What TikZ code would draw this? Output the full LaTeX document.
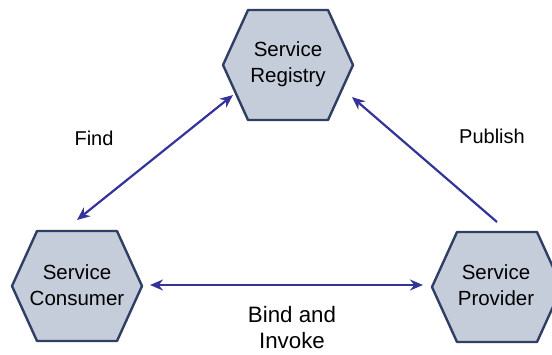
\documentclass[tikz,border=0pt]{standalone}
\usepackage{fontspec}
\setmainfont{Liberation Sans}
\usetikzlibrary{calc,arrows.meta}
\definecolor{hexfill}{HTML}{C5CDDB}
\definecolor{hexline}{HTML}{2F3E63}
\definecolor{arrowc}{HTML}{33339A}
\tikzset{
  hexbox/.style={draw=hexline,fill=hexfill,line width=2.4pt,line join=round},
  hextext/.style={align=center,font=\fontsize{20.5}{25.5}\selectfont,text=black,inner sep=0pt},
  lbl/.style={align=center,font=\fontsize{20}{25}\selectfont,text=black,inner sep=0pt},
  biglbl/.style={align=center,font=\fontsize{22.3}{26}\selectfont,text=black,inner sep=0pt},
  conn/.style={draw=arrowc,line width=2.2pt,-{Stealth[length=13pt,width=11pt]}},
  conn2/.style={draw=arrowc,line width=2.2pt,{Stealth[length=13pt,width=11pt]}-{Stealth[length=13pt,width=11pt]}}
}
\newcommand{\hexat}[1]{%
  \path[hexbox] ($(#1)+(-65,0)$) -- ++(25,-55) -- ++(80,0) -- ++(25,55) -- ++(-25,55) -- ++(-80,0) -- cycle;}
\begin{document}
\begin{tikzpicture}[x=1pt,y=-1pt]
\useasboundingbox (0,0) rectangle (552,354);
\clip (0,0) rectangle (552,354);
\coordinate (regc) at (288,65);
\coordinate (conc) at (77,286);
\coordinate (proc) at (497,287);
\hexat{regc}
\hexat{conc}
\hexat{proc}
\node[hextext] (reg) at (288,64) {Service\\Registry};
\node[hextext] (con) at (77,285) {Service\\Consumer};
\node[hextext] (pro) at (496,285) {Service\\Provider};
\draw[conn2] ($(conc)+(0,-66)$) -- ($(regc)+(-55,30)$);
\draw[conn] ($(proc)+(0,-65)$) -- ($(regc)+(64,32)$);
\draw[conn2] ($(conc)+(73,-1)$) -- ($(proc)+(-74,-2)$);
\node[lbl] (find) at (94,138) {Find};
\node[lbl] (pub) at (492,136) {Publish};
\node[biglbl] (bind) at (292,328) {Bind and\\Invoke};
\end{tikzpicture}
\end{document}
